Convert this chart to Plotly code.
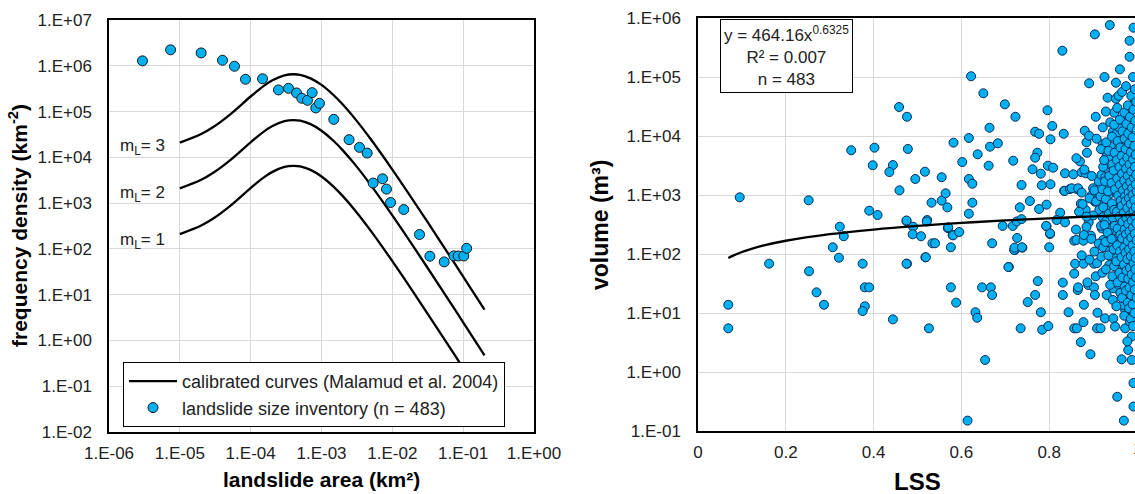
import plotly.graph_objects as go

W, H = 1135, 494

# ---------------- Left panel data ----------------
curve_area = [1e-5, 2e-5, 3e-5, 5e-5, 1e-4, 1.5e-4, 2e-4, 3e-4, 4e-4, 5e-4, 7e-4, 1e-3,
              1.5e-3, 2e-3, 3e-3, 5e-3, 1e-2, 2e-2, 5e-2, 1e-1, 2e-1]
curve_mL3 = [20980, 32290, 46570, 83900, 213300, 355100, 475300, 616500, 653100, 632400,
             531600, 381700, 224300, 141970, 68340, 24480, 5413, 1110, 128.9, 24.84, 4.74]
curve_mL2 = [2098, 3229, 4657, 8390, 21330, 35510, 47530, 61650, 65310, 63240,
             53160, 38170, 22430, 14197, 6834, 2448, 541.3, 111.0, 12.89, 2.484, 0.474]
curve_mL1 = [209.8, 322.9, 465.7, 839.0, 2133, 3551, 4753, 6165, 6531, 6324,
             5316, 3817, 2243, 1419.7, 683.4, 244.8, 54.13, 11.10, 1.289, 0.2484, 0.0474]
curve_labels = ["m<sub>L</sub>= 3", "m<sub>L</sub>= 2", "m<sub>L</sub>= 1"]

inv_area = [2.97e-6, 7.4e-6, 2.0e-5, 4.0e-5, 5.9e-5, 8.45e-5, 1.47e-4, 2.47e-4, 3.42e-4,
            4.44e-4, 5.27e-4, 6.34e-4, 7.37e-4, 8.3e-4, 9.37e-4, 1.49e-3, 2.45e-3, 3.44e-3,
            4.41e-3, 5.36e-3, 7.27e-3, 8.27e-3, 9.43e-3, 1.45e-2, 2.42e-2, 3.39e-2, 5.4e-2,
            7.4e-2, 8.5e-2, 1.02e-1, 1.12e-1]
inv_density = [1.28e6, 2.23e6, 1.91e6, 1.32e6, 9.75e5, 5.07e5, 5.2e5, 2.97e5, 3.22e5,
               2.55e5, 1.95e5, 1.76e5, 2.59e5, 1.2e5, 1.51e5, 6.75e4, 2.43e4, 1.65e4,
               1.24e4, 2.74e3, 3.4e3, 2.02e3, 1.03e3, 724, 206, 69.2, 52,
               70.3, 70, 70, 103]

left_xticks = [1e-6, 1e-5, 1e-4, 1e-3, 1e-2, 1e-1, 1]
left_xtext = ["1.E-06", "1.E-05", "1.E-04", "1.E-03", "1.E-02", "1.E-01", "1.E+00"]
left_yticks = [1e-2, 1e-1, 1, 1e1, 1e2, 1e3, 1e4, 1e5, 1e6, 1e7]
left_ytext = ["1.E-02", "1.E-01", "1.E+00", "1.E+01", "1.E+02", "1.E+03", "1.E+04",
              "1.E+05", "1.E+06", "1.E+07"]

# ---------------- Right panel data ----------------
lss_upper = [0.095, 0.252, 0.307, 0.323, 0.332, 0.349, 0.390, 0.409, 0.402, 0.398, 0.458, 0.476,
             0.478, 0.444, 0.436, 0.459, 0.475, 0.490, 0.489, 0.508, 0.522, 0.495, 0.517, 0.532,
             0.534, 0.540, 0.555, 0.555, 0.564, 0.568, 0.569, 0.581, 0.595, 0.576, 0.582, 0.602,
             0.617, 0.622, 0.650, 0.664, 0.637, 0.617, 0.625, 0.625, 0.617, 0.665, 0.683, 0.662,
             0.699, 0.723, 0.718, 0.670, 0.694, 0.717, 0.727, 0.721, 0.738, 0.737, 0.756, 0.777,
             0.794, 0.825, 0.768, 0.777, 0.796, 0.807, 0.803, 0.833, 0.830, 0.773, 0.768, 0.762,
             0.781, 0.797, 0.809, 0.783, 0.803, 0.836, 0.834, 0.794, 0.802, 0.817, 0.836, 0.800,
             0.857, 0.855, 0.870, 0.881, 0.885, 0.891, 0.904, 0.926, 0.938, 0.961, 0.983, 0.992,
             0.906, 0.933, 0.952, 0.948, 0.979, 0.995, 0.922, 0.874, 0.883, 0.863, 0.835, 0.872,
             0.883, 0.847, 0.890, 0.885, 0.862, 0.878, 0.895, 0.923, 0.931, 0.932, 0.928, 0.951,
             0.940, 0.967, 0.945, 0.961, 0.977, 0.980, 0.984, 0.927, 0.916, 0.900, 0.904, 0.923,
             0.935, 0.946, 0.969, 0.956, 0.940, 0.977, 0.988, 0.992, 0.967, 0.980, 0.950, 0.920,
             0.942, 0.733, 0.891, 0.931, 0.931, 0.851, 0.866, 0.876, 0.897, 0.904, 0.914, 0.900,
             0.475, 0.521, 0.726, 0.737, 0.793, 0.570]
vol_upper = [914, 813, 130, 290, 200, 5730, 542, 458, 6340, 3190, 31000, 21200,
             6030, 3220, 2450, 1200, 362, 290, 216, 200, 377, 1870, 2480, 741,
             152, 152, 2000, 802, 1070, 617, 275, 207, 236, 130, 7710, 3620,
             9250, 103000, 53000, 13800, 4900, 1870, 1550, 741, 482, 6590, 7520, 3140,
             34400, 21200, 3810, 152, 299, 299, 187, 128, 130, 1480, 791, 579,
             686, 501, 11800, 10900, 27300, 14800, 8790, 10900, 279000, 5210, 4290, 2730,
             2300, 3140, 2900, 1460, 1520, 2330, 1180, 294, 224, 377, 344, 130,
             168, 2240, 3720, 12300, 7820, 78200, 528000, 100000, 760000, 135000, 412000, 685000,
             21200, 44600, 42900, 24800, 21800, 40700, 7230, 2430, 2330, 1260, 1170, 713,
             557, 1260, 344, 287, 173, 168, 204, 173, 4760, 3350, 2480, 2830,
             6680, 4950, 11800, 8550, 7030, 12600, 9250, 1380, 1140, 1300, 771, 845,
             1000, 1480, 822, 490, 377, 224, 1790, 430, 162, 130, 255, 272,
             152, 617, 10100, 4500, 2000, 1300, 1300, 700, 1000, 800, 560, 450,
             370, 355, 355, 390, 300, 283]

lss_lower = [0.069, 0.069, 0.162, 0.253, 0.270, 0.287, 0.321, 0.375, 0.380, 0.390, 0.380, 0.375,
             0.444, 0.476, 0.518, 0.526, 0.576, 0.588, 0.632, 0.636, 0.647, 0.667, 0.670, 0.654,
             0.614, 0.708, 0.722, 0.751, 0.768, 0.774, 0.781, 0.784, 0.798, 0.735, 0.802, 0.831,
             0.831, 0.844, 0.857, 0.863, 0.872, 0.894, 0.878, 0.879, 0.857, 0.859, 0.865, 0.866,
             0.878, 0.889, 0.902, 0.902, 0.904, 0.906, 0.910, 0.909, 0.917, 0.927, 0.931, 0.945,
             0.946, 0.950, 0.955, 0.965, 0.970, 0.980, 0.988, 0.992, 0.992, 0.973, 0.988, 0.984,
             0.973, 0.988, 0.969, 0.946, 0.937, 0.927, 0.969, 0.977, 0.988, 0.984, 0.961, 0.946,
             0.519, 0.475, 0.580, 0.720, 0.739, 0.707]
vol_lower = [13.8, 5.5, 68.5, 51, 22.4, 13.8, 86.5, 68.5, 27.2, 27.2, 13.0, 10.8,
             7.8, 68.5, 87.9, 5.5, 27.2, 15.0, 10.3, 8.3, 27.2, 27.2, 20.2, 1.6,
             0.15, 60.3, 117, 15.3, 20.2, 34.8, 10.3, 5.2, 6.0, 5.5, 218, 32.7,
             20.2, 10.3, 5.5, 5.5, 3.2, 2.0, 7.0, 13.8, 46.5, 68.5, 24.5, 27.2,
             68.5, 29.9, 68.5, 27.2, 20.2, 41.9, 10.1, 5.5, 5.5, 8.1, 20.2, 16.6,
             8.1, 5.9, 0.38, 1.64, 0.15, 2.36, 1.6, 0.65, 0.26, 5.5, 4.0, 7.1,
             11.2, 11.2, 13.7, 26.2, 65.2, 133, 36.2, 53.6, 31.8, 103, 90, 152,
             88, 68.5, 210, 117, 128, 60]

lss_mid = [0.862, 0.861,
           0.868,
           0.874, 0.874,
           0.880, 0.879,
           0.886, 0.885, 0.887,
           0.892, 0.892,
           0.897, 0.896,
           0.903, 0.903,
           0.908, 0.907, 0.909,
           0.913, 0.913,
           0.918, 0.919, 0.917, 0.918, 0.919,
           0.922, 0.923, 0.921, 0.922, 0.923, 0.921,
           0.929, 0.930, 0.928, 0.929, 0.930, 0.928, 0.929,
           0.939, 0.940, 0.938, 0.939, 0.940, 0.938, 0.939,
           0.952, 0.953, 0.951, 0.952, 0.953, 0.951, 0.952, 0.953, 0.951, 0.952, 0.953,
           0.958, 0.959, 0.957, 0.958, 0.959, 0.957, 0.958, 0.959, 0.957, 0.958]
vol_mid = [4200, 260,
           520,
           1100, 95,
           2700, 210,
           5200, 430, 33,
           880, 80,
           2100, 180,
           1200, 110,
           9000, 780, 70,
           1700, 150,
           6000, 2200, 950, 300, 90,
           14000, 3000, 1250, 420, 130, 48,
           26000, 7800, 2000, 850, 360, 160, 55,
           17000, 4200, 1400, 620, 270, 110, 30,
           80000, 11000, 5000, 2300, 1100, 610, 330, 170, 85, 42, 13,
           48000, 14000, 4800, 2100, 1050, 580, 290, 150, 65, 30]

lss_dense = [0.925, 0.927, 0.923, 0.926,
             0.935, 0.937, 0.934, 0.936, 0.933, 0.935,
             0.943, 0.944, 0.942, 0.943, 0.945, 0.942, 0.944,
             0.948, 0.949, 0.947, 0.950, 0.948, 0.949, 0.947, 0.948,
             0.955, 0.956, 0.954, 0.955, 0.957, 0.954, 0.956, 0.955, 0.953, 0.956,
             0.961, 0.962, 0.960, 0.961, 0.963, 0.960, 0.962, 0.961, 0.960, 0.962,
             0.966, 0.967, 0.965, 0.966, 0.968, 0.965, 0.967, 0.966, 0.965, 0.967, 0.966,
             0.971, 0.972, 0.970, 0.971, 0.973, 0.970, 0.972, 0.971, 0.970, 0.972, 0.971,
             0.975, 0.976, 0.974, 0.975, 0.977, 0.974, 0.976, 0.975, 0.974, 0.976, 0.975,
             0.979, 0.980, 0.978, 0.979, 0.981, 0.978, 0.980, 0.979, 0.978, 0.980, 0.979, 0.978,
             0.983, 0.984, 0.982, 0.983, 0.985, 0.982, 0.984, 0.983, 0.982, 0.984, 0.983, 0.982,
             0.987, 0.988, 0.986, 0.987, 0.989, 0.986, 0.988, 0.987, 0.986, 0.988, 0.987, 0.986,
             0.991, 0.992, 0.990, 0.991, 0.993, 0.990, 0.992, 0.991, 0.990, 0.992, 0.991, 0.990, 0.991,
             0.995, 0.996, 0.994, 0.995, 0.997, 0.994, 0.996, 0.995, 0.994, 0.996, 0.995, 0.994,
             0.998, 0.999, 0.997, 0.998, 0.999, 0.997, 0.998, 0.999, 0.997, 0.998, 0.999]
vol_dense = [3900, 1700, 620, 310,
             5600, 2100, 1150, 480, 230, 95,
             9800, 3300, 1600, 720, 410, 180, 42,
             15500, 5200, 2600, 1250, 560, 300, 120, 62,
             30000, 8200, 3900, 1900, 980, 520, 270, 140, 75, 33,
             19000, 6400, 3000, 1500, 800, 430, 210, 110, 48, 22,
             56000, 12000, 4600, 2300, 1200, 650, 350, 185, 88, 40, 18,
             25000, 9000, 3600, 1750, 950, 500, 260, 130, 66, 28, 9,
             70000, 16000, 6000, 2800, 1400, 780, 410, 215, 105, 52, 24,
             33000, 11000, 4300, 2100, 1100, 600, 320, 165, 82, 38, 15, 3.3,
             220000, 21000, 7500, 3300, 1650, 880, 460, 240, 120, 58, 27, 12,
             48000, 14000, 5300, 2500, 1300, 700, 370, 190, 92, 45, 20, 8,
             100000, 28000, 9500, 4000, 1950, 1000, 540, 280, 140, 70, 33, 14, 6,
             62000, 18000, 6800, 3000, 1500, 820, 430, 220, 110, 55, 25, 10,
             38000, 12500, 4800, 2200, 1150, 620, 330, 170, 85, 40, 18]

trend_lss = [0.069, 0.08, 0.1, 0.12, 0.15, 0.2, 0.3, 0.4, 0.5, 0.6, 0.7, 0.8, 0.9, 1.0]
trend_vol = [85.6, 93.9, 108.2, 121.4, 139.8, 167.7, 216.8, 260.0, 299.4, 336.0, 370.4,
             403.0, 434.2, 464.16]

right_xticks = [0, 0.2, 0.4, 0.6, 0.8]
right_xtext = ["0", "0.2", "0.4", "0.6", "0.8"]
right_yticks = [1e-1, 1, 1e1, 1e2, 1e3, 1e4, 1e5, 1e6]
right_ytext = ["1.E-01", "1.E+00", "1.E+01", "1.E+02", "1.E+03", "1.E+04", "1.E+05", "1.E+06"]

# ---------------- Figure ----------------
FONT = "Liberation Sans, Arial, sans-serif"
BLUE = "#00B0F0"
GRID = "#D9D9D9"


def px(x):
    return x / W


def py(y):
    return 1 - y / H


fig = go.Figure()

for i, (vals, lab) in enumerate(zip([curve_mL3, curve_mL2, curve_mL1], curve_labels)):
    fig.add_trace(go.Scatter(
        x=curve_area, y=vals, mode="lines", line=dict(color="black", width=2.3, shape="spline"),
        name="calibrated curves (Malamud et al. 2004)", legendgroup="cal",
        showlegend=(i == 0), xaxis="x", yaxis="y", hoverinfo="skip"))

fig.add_trace(go.Scatter(
    x=inv_area, y=inv_density, mode="markers",
    marker=dict(size=10, color=BLUE, line=dict(color="#1a1a1a", width=1)),
    name="landslide size inventory (n = 483)", xaxis="x", yaxis="y"))

fig.add_trace(go.Scatter(
    x=lss_lower + lss_upper + lss_mid + lss_dense,
    y=vol_lower + vol_upper + vol_mid + vol_dense, mode="markers",
    marker=dict(size=9, color=BLUE, line=dict(color="#0B2C5A", width=1)),
    showlegend=False, xaxis="x2", yaxis="y2"))

fig.add_trace(go.Scatter(
    x=trend_lss, y=trend_vol, mode="lines", line=dict(color="black", width=2.3, shape="spline"),
    showlegend=False, xaxis="x2", yaxis="y2", hoverinfo="skip"))

axis_common = dict(showline=True, linecolor="black", linewidth=1.5, showgrid=True,
                   gridcolor=GRID, gridwidth=1.3, zeroline=False, ticks="",
                   tickfont=dict(family=FONT, size=17, color="#222"), automargin=False)

fig.update_layout(
    width=W, height=H, margin=dict(l=0, r=0, t=0, b=0),
    paper_bgcolor="white", plot_bgcolor="white",
    font=dict(family=FONT, color="black"),
    xaxis=dict(type="log", range=[-6, 0], domain=[px(109), px(534)], anchor="y", mirror=True,
               tickvals=left_xticks, ticktext=left_xtext, ticklabelstandoff=5, **axis_common),
    yaxis=dict(type="log", range=[-2, 7], domain=[py(432), py(20)], anchor="x", mirror=True,
               tickvals=left_yticks, ticktext=left_ytext, ticklabelstandoff=12, **axis_common),
    xaxis2=dict(range=[0, (W - 698) / 439], domain=[px(698), 1], anchor="y2", mirror=True,
                tickvals=right_xticks, ticktext=right_xtext, ticklabelstandoff=5, **axis_common),
    yaxis2=dict(type="log", range=[-1, 6], domain=[py(431), py(18)], anchor="x2", mirror=False,
                tickvals=right_yticks, ticktext=right_ytext, ticklabelstandoff=12, **axis_common),
    legend=dict(x=px(123), y=py(362), xanchor="left", yanchor="top", bgcolor="white",
                bordercolor="black", borderwidth=1, font=dict(family=FONT, size=18, color="#222"),
                traceorder="normal", tracegroupgap=0, itemwidth=48),
    showlegend=True,
)

ann = []
for lab, yy in zip(curve_labels, [147, 194, 241]):
    ann.append(dict(text=lab, x=px(118), y=py(yy), xref="paper", yref="paper", xanchor="left",
                    yanchor="middle", showarrow=False, font=dict(family=FONT, size=17, color="#222")))

ann.append(dict(text="y = 464.16x<sup>0.6325</sup><br>R² = 0.007<br>n = 483",
                x=px(786), y=py(56), xref="paper", yref="paper", xanchor="center", yanchor="middle",
                showarrow=False, align="center", bgcolor="white", bordercolor="black", borderwidth=1,
                borderpad=3, font=dict(family=FONT, size=17, color="#222")))

ann.append(dict(text="<b>frequency density (km<sup>-2</sup>)</b>", x=px(18), y=py(226),
                xref="paper", yref="paper", textangle=-90, showarrow=False,
                xanchor="center", yanchor="middle", font=dict(family=FONT, size=21, color="black")))
ann.append(dict(text="<b>landslide area (km²)</b>", x=px(321), y=py(479), xref="paper", yref="paper",
                showarrow=False, xanchor="center", yanchor="middle",
                font=dict(family=FONT, size=21, color="black")))
ann.append(dict(text="<b>volume (m³)</b>", x=px(600), y=py(225), xref="paper", yref="paper",
                textangle=-90, showarrow=False, xanchor="center", yanchor="middle",
                font=dict(family=FONT, size=23, color="black")))
ann.append(dict(text="<b>LSS</b>", x=px(917), y=py(481), xref="paper", yref="paper",
                showarrow=False, xanchor="center", yanchor="middle",
                font=dict(family=FONT, size=24, color="black")))
ann.append(dict(text="1", x=px(1137), y=py(448), xref="paper", yref="paper", showarrow=False,
                xanchor="center", yanchor="middle", font=dict(family=FONT, size=17, color="#222")))

fig.update_layout(annotations=ann)

fig.write_html("out.html", config={"displayModeBar": False},
               post_script="document.body.style.margin='0';document.body.style.overflow='hidden';")
